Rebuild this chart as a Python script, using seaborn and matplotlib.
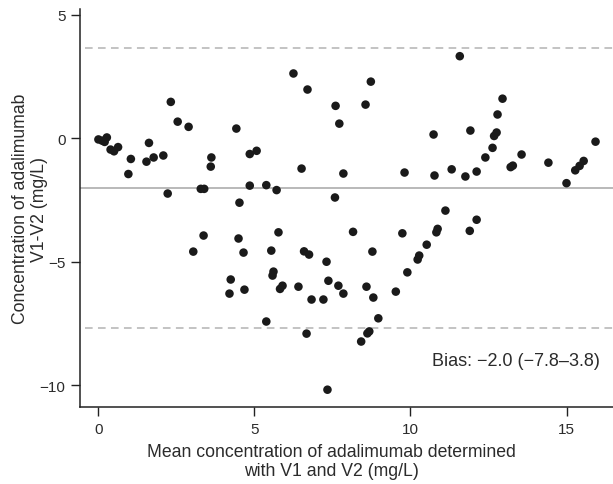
import pandas as pd
import seaborn as sns
import matplotlib.pyplot as plt

# Bland-Altman style agreement plot, adalimumab V1 vs V2

mean_conc = [0.00, 0.12, 0.20, 0.27, 0.39, 0.50, 0.63, 0.96, 1.04, 1.54,
             1.62, 1.77, 2.08, 2.22, 2.32, 2.54, 2.89, 3.04, 3.28, 3.39,
             3.37, 3.62, 3.60, 4.20, 4.24, 4.42, 4.49, 4.52, 4.65, 4.68,
             4.85, 5.07, 4.85, 5.38, 5.71, 5.38, 5.54, 5.61, 5.58, 5.77,
             5.90, 5.82, 6.25, 6.41, 6.51, 6.59, 6.75, 6.70, 6.67, 6.83,
             7.21, 7.31, 7.34, 7.37, 7.58, 7.60, 7.69, 7.72, 7.85, 7.85,
             8.16, 8.42, 8.56, 8.59, 8.62, 8.68, 8.73, 8.78, 8.81, 8.97,
             9.53, 9.74, 9.81, 9.90, 10.23, 10.28, 10.52, 10.74, 10.77, 10.83,
             10.87, 11.12, 11.32, 11.58, 11.76, 11.90, 11.92, 12.12, 12.12, 12.40,
             12.63, 12.68, 12.76, 12.79, 12.95, 13.21, 13.28, 13.56, 14.42, 15.00,
             15.28, 15.42, 15.55, 15.93]
diff_conc = [-0.05, -0.10, -0.15, 0.03, -0.46, -0.53, -0.36, -1.45, -0.84, -0.95,
             -0.19, -0.78, -0.70, -2.24, 1.47, 0.67, 0.46, -4.59, -2.05, -2.05,
             -3.94, -0.78, -1.15, -6.29, -5.72, 0.39, -4.06, -2.61, -4.63, -6.13,
             -0.64, -0.51, -1.92, -1.90, -2.10, -7.42, -4.55, -5.40, -5.56, -3.81,
             -5.97, -6.10, 2.62, -6.01, -1.23, -4.58, -4.71, 1.97, -7.91, -6.53,
             -6.53, -5.00, -10.18, -5.77, -2.40, 1.31, -5.97, 0.59, -1.43, -6.29,
             -3.79, -8.23, 1.36, -6.01, -7.90, -7.82, 2.29, -4.59, -6.45, -7.29,
             -6.21, -3.85, -1.39, -5.43, -4.91, -4.75, -4.31, 0.15, -1.51, -3.81,
             -3.67, -2.93, -1.26, 3.32, -1.55, -3.75, 0.31, -1.35, -3.30, -0.78,
             -0.39, 0.09, 0.23, 0.96, 1.60, -1.17, -1.11, -0.66, -0.99, -1.82,
             -1.30, -1.12, -0.92, -0.14]

bias = -2.0
upper_loa = 3.65
lower_loa = -7.7
x_ticks = [0, 5, 10, 15]
y_ticks = [5, 0, -5, -10]
bias_text = "Bias: \u22122.0 (\u22127.8\u20133.8)"

df = pd.DataFrame({"mean": mean_conc, "diff": diff_conc})

sns.set_style("ticks")
plt.rcParams["font.family"] = ["Liberation Sans", "DejaVu Sans"]
text_col = "#2b2b2b"

fig = plt.figure(figsize=(6.13, 4.85), dpi=100)
ax = fig.add_axes([80 / 613, 77 / 485, 533 / 613, 398 / 485])

ax.axhline(bias, color="#b3b3b3", lw=1.3, zorder=1)
ax.axhline(upper_loa, xmin=0.01, color="#b3b3b3", lw=1.1, ls=(0, (5, 3.5)), zorder=1)
ax.axhline(lower_loa, xmin=0.01, color="#b3b3b3", lw=1.1, ls=(0, (5, 3.5)), zorder=1)

sns.scatterplot(data=df, x="mean", y="diff", ax=ax, color="#1a1a1a",
                s=38, edgecolor="none", zorder=3)

ax.set_xlim(-0.59, 16.49)
ax.set_ylim(-10.88, 5.23)
ax.set_xticks(x_ticks)
ax.set_yticks(y_ticks)
ax.set_yticklabels([str(t).replace("-", "\u2212") for t in y_ticks])
sns.despine(ax=ax)
for sp in ax.spines.values():
    sp.set_color("#222222")
    sp.set_linewidth(1.1)
ax.tick_params(length=6.5, width=1.0, color="#222222", labelsize=11,
               labelcolor=text_col, pad=4)

ax.set_xlabel("Mean concentration of adalimumab determined\nwith V1 and V2 (mg/L)",
              fontsize=12.7, color=text_col, linespacing=1.2)
ax.set_ylabel("Concentration of adalimumab\nV1-V2 (mg/L)",
              fontsize=12.7, color=text_col, linespacing=1.2)
ax.xaxis.label.set_va("center")
ax.yaxis.label.set_va("center")
ax.xaxis.set_label_coords((331 - 80) / 533, (408 - 462) / 398, transform=ax.transAxes)
ax.yaxis.set_label_coords((30 - 80) / 533, 0.5, transform=ax.transAxes)

ax.text(16.07, -8.98, bias_text, ha="right", va="center", fontsize=13, color=text_col)

fig.savefig("out.png", dpi=100)
